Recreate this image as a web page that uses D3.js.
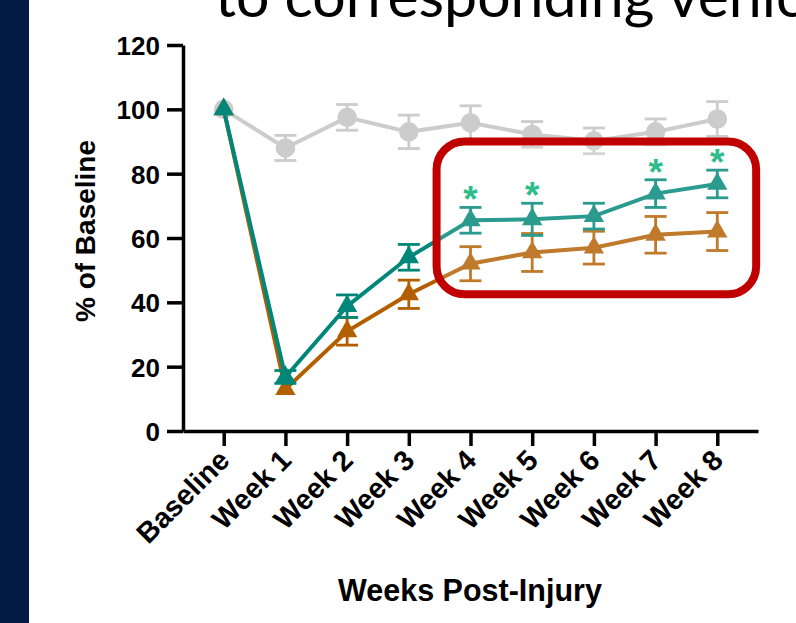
<!DOCTYPE html>
<html>
<head>
<meta charset="utf-8">
<script src="https://cdn.jsdelivr.net/npm/d3@7"></script>
<style>
  body { margin: 0; background: #fff; }
  svg { display: block; }
  .tick text, .lbl { font-family: "Liberation Sans", Arial, sans-serif; font-weight: bold; fill: #000; }
</style>
</head>
<body>
<div id="chart"></div>
<script>
// chart data
const weeks = ["Baseline", "Week 1", "Week 2", "Week 3", "Week 4", "Week 5", "Week 6", "Week 7", "Week 8"];
const vehicle = [100, 88, 97.5, 93, 95.8, 92.2, 90.2, 93, 97];
const vehicleErr = [0, 3.9, 4, 5.2, 5.3, 4, 4, 4, 5.4];
const treated = [100, 16.8, 38.8, 54, 65.5, 65.8, 66.8, 73.8, 76.8];
const treatedErr = [0, 2, 3.5, 4, 4, 5, 4, 4.3, 4.3];
const injured = [100, 13, 31, 42.5, 52, 55.5, 57, 61, 62];
const injuredErr = [0, 0, 4.3, 4.4, 5.3, 5.9, 5.1, 5.7, 5.9];
const starWeeks = ["Week 4", "Week 5", "Week 7", "Week 8"];
const yTicks = [0, 20, 40, 60, 80, 100, 120];

const width = 796, height = 623;
const svg = d3.select("#chart").append("svg")
    .attr("width", width)
    .attr("height", height);

// dark slide edge on the left
svg.append("rect").attr("x", 0).attr("y", 0).attr("width", 29).attr("height", height).attr("fill", "#031a44");

// slide title, cut off by the top edge like in the slide
svg.append("text")
    .attr("x", 215).attr("y", 17)
    .style("font-family", "Lato, sans-serif")
    .style("font-size", "59px")
    .attr("fill", "#000")
    .text("to corresponding vehicle");

const x = d3.scalePoint().domain(weeks).range([183, 758]).padding(0.66);
const y = d3.scaleLinear().domain([0, 120]).range([431, 45]);

// axes
const xAxis = svg.append("g")
    .attr("transform", "translate(0," + y(0) + ")")
    .call(d3.axisBottom(x).tickSize(15).tickSizeOuter(0));
xAxis.selectAll("text")
    .attr("transform", "translate(7,31) rotate(-45)")
    .attr("dy", 0)
    .attr("y", 0)
    .attr("x", 0)
    .style("text-anchor", "end")
    .style("font-size", "28.5px");

const yAxis = svg.append("g")
    .attr("transform", "translate(183,0)")
    .call(d3.axisLeft(y).tickValues(yTicks).tickSize(16).tickPadding(7).tickSizeOuter(0));
yAxis.selectAll("text").style("font-size", "26px").attr("dy", "0.36em");

svg.selectAll(".domain, .tick line").attr("stroke", "#000").attr("stroke-width", 3.5);

// axis titles
svg.append("text").attr("class", "lbl")
    .attr("transform", "translate(95,231) rotate(-90)")
    .attr("text-anchor", "middle")
    .style("font-size", "28px")
    .text("% of Baseline");
svg.append("text").attr("class", "lbl")
    .attr("x", 470).attr("y", 601)
    .attr("text-anchor", "middle")
    .style("font-size", "30.5px")
    .text("Weeks Post-Injury");

const line = d3.line().x(d => x(d.w)).y(d => y(d.v));

function drawSeries(vals, errs, color, shape) {
    const pts = weeks.map((w, i) => ({w: w, v: vals[i], e: errs[i]}));
    const g = svg.append("g");
    g.append("path").datum(pts).attr("d", line)
        .attr("fill", "none").attr("stroke", color).attr("stroke-width", 4);
    const eb = g.selectAll(".eb").data(pts.filter(d => d.e > 0)).enter().append("g");
    eb.append("line")
        .attr("x1", d => x(d.w)).attr("x2", d => x(d.w))
        .attr("y1", d => y(d.v + d.e)).attr("y2", d => y(d.v - d.e));
    eb.append("line")
        .attr("x1", d => x(d.w) - 11).attr("x2", d => x(d.w) + 11)
        .attr("y1", d => y(d.v + d.e)).attr("y2", d => y(d.v + d.e));
    eb.append("line")
        .attr("x1", d => x(d.w) - 11).attr("x2", d => x(d.w) + 11)
        .attr("y1", d => y(d.v - d.e)).attr("y2", d => y(d.v - d.e));
    eb.selectAll("line").attr("stroke", color).attr("stroke-width", 2.8);
    g.selectAll(".pt").data(pts).enter().append("path")
        .attr("transform", d => "translate(" + x(d.w) + "," + y(d.v) + ")")
        .attr("d", d3.symbol().type(shape).size(shape === d3.symbolCircle ? 300 : 180))
        .attr("fill", color);
}

drawSeries(vehicle, vehicleErr, "#cccccc", d3.symbolCircle);
drawSeries(injured, injuredErr, "#b35f00", d3.symbolTriangle);
drawSeries(treated, treatedErr, "#00877a", d3.symbolTriangle);

// highlight box over weeks 4-8
const step = x.step();
const bx0 = x("Week 4") - 0.55 * step, bx1 = x("Week 8") + 0.63 * step;
const by0 = y(90), by1 = y(42.5);
svg.append("rect")
    .attr("x", bx0).attr("y", by0).attr("width", bx1 - bx0).attr("height", by1 - by0)
    .attr("fill", "#fff").attr("fill-opacity", 0.17);

// significance stars
const tIdx = w => weeks.indexOf(w);
svg.selectAll(".star").data(starWeeks).enter().append("text")
    .attr("class", "lbl")
    .attr("x", d => x(d))
    .attr("y", d => y(treated[tIdx(d)] + treatedErr[tIdx(d)]) + 5)
    .attr("text-anchor", "middle")
    .style("font-size", "37px")
    .style("fill", "#2ebd8a")
    .text("*");

svg.append("rect")
    .attr("x", bx0).attr("y", by0).attr("width", bx1 - bx0).attr("height", by1 - by0)
    .attr("rx", 28).attr("ry", 28)
    .attr("fill", "none").attr("stroke", "#c00000").attr("stroke-width", 8);
</script>
</body>
</html>
